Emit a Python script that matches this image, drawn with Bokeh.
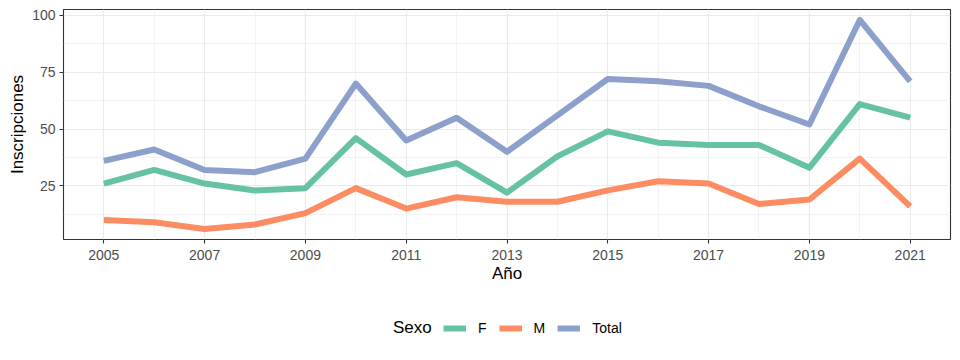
from bokeh.plotting import figure
from bokeh.layouts import column
from bokeh.models import FixedTicker, Legend, LegendItem, Range1d
from bokeh.embed import file_html
from bokeh.resources import INLINE

years = list(range(2005, 2022))
f_vals = [26, 32, 26, 23, 24, 46, 30, 35, 22, 38, 49, 44, 43, 43, 33, 61, 55]
m_vals = [10, 9, 6, 8, 13, 24, 15, 20, 18, 18, 23, 27, 26, 17, 19, 37, 16]
total_vals = [36, 41, 32, 31, 37, 70, 45, 55, 40, 56, 72, 71, 69, 60, 52, 98, 71]
x_ticks = [2005, 2007, 2009, 2011, 2013, 2015, 2017, 2019, 2021]
x_minor = list(range(2004, 2023))
y_ticks = [25, 50, 75, 100]
y_minor = [12.5, 37.5, 62.5, 87.5]
series_names = ["F", "M", "Total"]
series_colors = ["#66C2A5", "#FC8D62", "#8DA0CB"]
series_values = [f_vals, m_vals, total_vals]
legend_title = "Sexo"

all_vals = f_vals + m_vals + total_vals
ymin, ymax = min(all_vals), max(all_vals)
yexp = (ymax - ymin) * 0.05
xexp = (max(years) - min(years)) * 0.05

FONT = "Liberation Sans"
LW = 6

p = figure(width=952, height=298, output_backend="svg", toolbar_location=None,
           x_range=Range1d(min(years) - xexp, max(years) + xexp),
           y_range=Range1d(ymin - yexp, ymax + yexp),
           min_border_left=63, min_border_right=2, min_border_top=9,
           min_border_bottom=59)

for name, col, vals in zip(series_names, series_colors, series_values):
    p.line(years, vals, line_color=col, line_width=LW,
           line_join="round", line_cap="butt")

p.outline_line_color = "#333333"
p.outline_line_width = 1.1
p.background_fill_color = "white"
p.border_fill_color = "white"

p.xaxis.ticker = FixedTicker(ticks=x_ticks, minor_ticks=x_minor)
p.yaxis.ticker = FixedTicker(ticks=y_ticks, minor_ticks=y_minor)

for ax in [p.xaxis, p.yaxis]:
    ax.axis_line_color = None
    ax.major_tick_line_color = "#333333"
    ax.major_tick_line_width = 1.1
    ax.major_tick_out = 4
    ax.major_tick_in = 0
    ax.minor_tick_out = 0
    ax.minor_tick_in = 0
    ax.major_label_text_font = FONT
    ax.major_label_text_font_size = "14px"
    ax.major_label_text_color = "#4D4D4D"
    ax.axis_label_text_font = FONT
    ax.axis_label_text_font_size = "17px"
    ax.axis_label_text_font_style = "normal"
    ax.axis_label_text_color = "black"

p.xaxis.axis_label = "Año"
p.yaxis.axis_label = "Inscripciones"
p.xaxis.major_label_standoff = 6
p.xaxis.axis_label_standoff = 1
p.yaxis.major_label_standoff = 4
p.yaxis.axis_label_standoff = 2

for g in [p.xgrid, p.ygrid]:
    g.grid_line_color = "#EBEBEB"
    g.grid_line_width = 1.1
    g.minor_grid_line_color = "#EBEBEB"
    g.minor_grid_line_width = 0.6

# legend strip below the chart (its series drawn off-range, only keys show)
lg = figure(width=952, height=54, output_backend="svg", toolbar_location=None,
            x_range=Range1d(0, 1), y_range=Range1d(0, 1),
            x_axis_location=None, y_axis_location=None,
            min_border_left=0, min_border_right=0, min_border_top=0,
            min_border_bottom=0)
lg.grid.visible = False
lg.outline_line_color = None
lg.background_fill_color = "white"
lg.border_fill_color = "white"

title_r = lg.line(years, total_vals, line_alpha=0)
items = []
for name, col, vals in zip(series_names, series_colors, series_values):
    r = lg.line(years, vals, line_color=col, line_width=LW)
    items.append(LegendItem(label=name, renderers=[r]))

title_leg = Legend(items=[LegendItem(label=legend_title, renderers=[title_r])],
                   orientation="horizontal", location=(330, 14),
                   label_text_font=FONT, label_text_font_size="17px",
                   label_text_color="black", glyph_width=0, glyph_height=20,
                   label_standoff=0, label_width=0, padding=0, margin=0,
                   border_line_color=None, background_fill_alpha=0)
lg.add_layout(title_leg, "center")

key_leg = Legend(items=items, orientation="horizontal", location=(380, 14),
                 label_text_font=FONT, label_text_font_size="14px",
                 label_text_color="black",
                 glyph_width=23, glyph_height=20, label_standoff=12,
                 label_width=0, spacing=12, padding=0, margin=0,
                 border_line_color=None, background_fill_alpha=0)
lg.add_layout(key_leg, "center")

layout = column(p, lg, spacing=0)
open("out.html", "w").write(file_html(layout, INLINE))
